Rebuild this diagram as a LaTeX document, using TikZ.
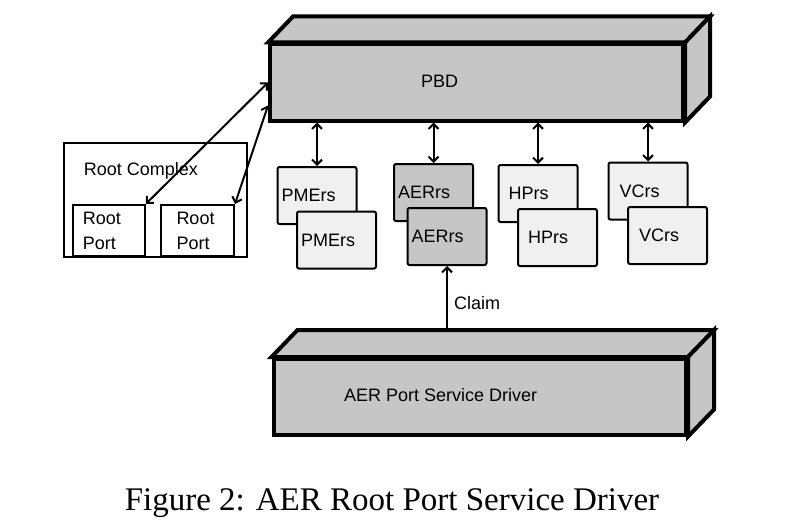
\documentclass[tikz,border=0pt]{standalone}
\usepackage{fontspec}
\setmainfont{Liberation Serif}
\setsansfont{Liberation Sans}
\usetikzlibrary{arrows.meta}
\definecolor{boxgray}{HTML}{C6C6C6}
\definecolor{boxlight}{HTML}{F0F0F0}
\newcommand{\diagfont}{\sffamily\fontsize{18}{25}\selectfont}
\tikzset{
  slab/.style={draw, fill=boxgray, line width=4pt, inner sep=0pt},
  rsbox/.style 2 args={draw, fill=boxlight, line width=2pt, rounded corners=2pt,
    minimum width=79pt, minimum height=57pt, align=left, inner xsep=#1, text width=#2},
  portbox/.style 2 args={draw, fill=white, line width=2pt, minimum height=51pt,
    align=left, inner xsep=#1, text width=#2},
  link/.style={line width=2pt, {Straight Barb[length=5pt,width=10pt]}-{Straight Barb[length=5pt,width=10pt]}},
  claim/.style={line width=2pt, -{Straight Barb[length=5pt,width=10pt]}},
  txt/.style={anchor=base west, inner sep=0pt}
}
\begin{document}
\begin{tikzpicture}[x=1pt, y=-1pt, font=\diagfont]
    \useasboundingbox (0,0) rectangle (794,527);

    % PBD slab
    \node[slab, minimum width=413pt, minimum height=76pt] (pbd) at (476.5,82.5) {};
    \draw[slab] (pbd.north west) -- ([shift={(25,-26)}]pbd.north west)
        -- ([shift={(25,-26)}]pbd.north east) -- (pbd.north east) -- cycle;
    \draw[slab] (pbd.north east) -- ([shift={(25,-26)}]pbd.north east)
        -- ([shift={(25,-26)}]pbd.south east) -- (pbd.south east) -- cycle;
    \node[txt] (pbdtext) at (421,87) {PBD};

    % AER port service driver slab
    \node[slab, minimum width=412.5pt, minimum height=75.5pt] (drv) at (479.75,396.75) {};
    \draw[slab] (drv.north west) -- ([shift={(26,-27)}]drv.north west)
        -- ([shift={(26,-27)}]drv.north east) -- (drv.north east) -- cycle;
    \draw[slab] (drv.north east) -- ([shift={(26,-27)}]drv.north east)
        -- ([shift={(26,-27)}]drv.south east) -- (drv.south east) -- cycle;
    \node[txt] (drvtext) at (344,401) {AER Port Service Driver};
    \coordinate (drvback) at ([yshift=27pt]drv.north);

    % Root complex and its ports
    \node[draw, line width=2pt, minimum width=182.5pt, minimum height=114pt] (rc) at (155.25,200) {};
    \node[txt] (rctext) at (83.6,175) {Root Complex};
    \node[portbox={10pt}{52pt}] (port1) at (108.9,230.4) {Root\\Port};
    \node[portbox={15.5pt}{42pt}] (port2) at (197.5,230.4) {Root\\Port};

    % Service boxes, back copy then front copy
    \node[rsbox={4pt}{71pt}] (pmer1) at (317,195.5) {PMErs};
    \node[rsbox={4pt}{71pt}] (pmer2) at (336.5,240) {PMErs};
    \node[rsbox={4pt}{71pt}, fill=boxgray] (aer1) at (433.5,192.5) {AERrs};
    \node[rsbox={4pt}{71pt}, fill=boxgray] (aer2) at (447,236.5) {AERrs};
    \node[rsbox={10pt}{59pt}] (hp1) at (538,193.5) {HPrs};
    \node[rsbox={10pt}{59pt}] (hp2) at (557.5,237.5) {HPrs};
    \node[rsbox={11pt}{57pt}] (vc1) at (648,191) {VCrs};
    \node[rsbox={11pt}{57pt}] (vc2) at (667.5,235.5) {VCrs};

    % Links to the PBD
    \foreach \b in {pmer1, aer1, hp1, vc1}
        \draw[link] (pbd.south -| \b.north) -- (\b.north);
    \draw[link] (port1.north east) -- (pbd.west);
    \draw[link] (port2.north east) -- ([yshift=-23pt]pbd.west);

    % Claim
    \draw[claim] (drvback -| aer2.south) -- (aer2.south);
    \node[txt] (claimtext) at (454,309) {Claim};

    % Caption
    \node[anchor=base, font=\rmfamily\fontsize{33}{40}\selectfont] (caption) at (392,510)
        {Figure 2: AER Root Port Service Driver};
\end{tikzpicture}
\end{document}
